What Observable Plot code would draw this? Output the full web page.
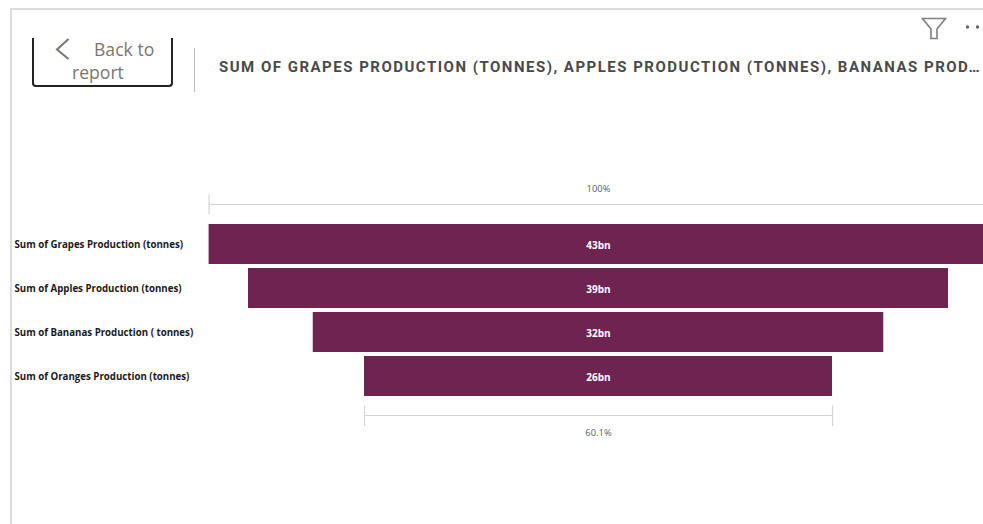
<!DOCTYPE html>
<html>
<head>
<meta charset="utf-8">
<script src="https://cdn.jsdelivr.net/npm/d3@7"></script>
<script src="https://cdn.jsdelivr.net/npm/@observablehq/plot@0.6"></script>
<style>
html,body{margin:0;padding:0;background:#fff;overflow:hidden}
#stage{position:relative;width:983px;height:524px;overflow:hidden}
#chart{position:absolute;left:0;top:0}
#chart svg{display:block;background:transparent}
.frameTop{position:absolute;left:10px;top:8px;width:973px;height:2px;background:#dcdcdc}
.frameLeft{position:absolute;left:10px;top:8px;width:2px;height:516px;background:#dcdcdc}
.backBox{position:absolute;left:32px;top:38px;width:136.5px;height:46.5px;border:2.5px solid #252423;border-top:0;border-radius:0 0 4px 4px;box-sizing:content-box}
.backText{position:absolute;font:17.6px "Open Sans",sans-serif;color:#7a7570;white-space:nowrap}
.sep{position:absolute;left:194px;top:48px;width:1px;height:44px;background:#bdbdbd}
.title{position:absolute;left:219px;top:58px;font:700 15px Roboto,sans-serif;letter-spacing:1.49px;color:#4a4a4a;white-space:nowrap}
.icons{position:absolute;left:0;top:0}
</style>
</head>
<body>
<div id="stage">
  <div id="chart"></div>
  <div class="frameTop"></div>
  <div class="frameLeft"></div>
  <div class="backBox"></div>
  <svg class="icons" width="983" height="60" style="overflow:hidden">
    <path d="M68.5 39 L57 49.5 L68.5 59" fill="none" stroke="#7a7570" stroke-width="2"/>
    <path d="M922.5 18.5 H945.5 L937 29 V38.5 H931 V29 Z" fill="none" stroke="#7f7f7f" stroke-width="1.6"/>
    <circle cx="967.5" cy="27" r="1.7" fill="#666"/>
    <circle cx="977.5" cy="27" r="1.7" fill="#666"/>
  </svg>
  <div class="backText" style="left:94px;top:37px">Back to</div>
  <div class="backText" style="left:72px;top:60px">report</div>
  <div class="sep"></div>
  <div class="title">SUM OF GRAPES PRODUCTION (TONNES), APPLES PRODUCTION (TONNES), BANANAS PROD…</div>
</div>
<script>
const categories = [
  "Sum of Grapes Production (tonnes)",
  "Sum of Apples Production (tonnes)",
  "Sum of Bananas Production ( tonnes)",
  "Sum of Oranges Production (tonnes)"
];
const values = [43, 38.65, 31.5, 25.84];
const valueLabels = ["43bn", "39bn", "32bn", "26bn"];
const topLabel = "100%";
const bottomLabel = "60.1%";

const rows = categories.map((name, i) => ({name, value: values[i], label: valueLabels[i]}));
const first = rows[0], last = rows[rows.length - 1];
const maroon = "#6e2351";
const ruleColor = "#d4d4d4";
const halfMax = values[0] / 2;

const chart = Plot.plot({
  width: 983,
  height: 524,
  marginLeft: 14,
  marginRight: 0,
  marginTop: 0,
  marginBottom: 0,
  style: {background: "transparent", overflow: "hidden"},
  x: {domain: [-halfMax, halfMax], range: [208.6, 987.4], axis: null},
  y: {domain: ["top", ...categories, "bottom"], range: [174.4, 444.8], padding: 0.1, axis: null},
  marks: [
    Plot.barX(rows, {
      x1: d => -d.value / 2, x2: d => d.value / 2, y: "name", fill: maroon
    }),
    Plot.text(rows, {
      x: 0, y: "name", text: "label", fill: "#fff", fontWeight: 700,
      fontFamily: "Open Sans", fontSize: 10, dy: 1
    }),
    Plot.text(rows, {
      frameAnchor: "left", y: "name", text: "name", textAnchor: "start", fill: "#1a1a1a", fontWeight: 700,
      fontFamily: "Open Sans", fontSize: 9.7, dy: 0
    }),
    // top bracket: span of the first stage
    Plot.ruleY([first], {x1: d => -d.value / 2, x2: d => d.value / 2, y: () => "top", stroke: ruleColor, strokeWidth: 1.2, dy: 4}),
    Plot.tickX([first], {x: d => -d.value / 2, y: () => "top", stroke: ruleColor, strokeWidth: 1.2, insetTop: 14.5, insetBottom: 5.5}),
    Plot.text([topLabel], {x: 0, y: () => "top", text: d => d, fill: "#605e5c", fontFamily: "Open Sans", fontSize: 9.4, dy: -12}),
    // bottom bracket: span of the last stage
    Plot.ruleY([last], {x1: d => -d.value / 2, x2: d => d.value / 2, y: () => "bottom", stroke: ruleColor, strokeWidth: 1.2, dy: -5}),
    Plot.tickX([last], {x: d => -d.value / 2, y: () => "bottom", stroke: ruleColor, strokeWidth: 1.2, insetTop: 5.5, insetBottom: 14}),
    Plot.tickX([last], {x: d => d.value / 2, y: () => "bottom", stroke: ruleColor, strokeWidth: 1.2, insetTop: 5.5, insetBottom: 14}),
    Plot.text([bottomLabel], {x: 0, y: () => "bottom", text: d => d, fill: "#605e5c", fontFamily: "Open Sans", fontSize: 9.4, dy: 12.8})
  ]
});
document.getElementById("chart").append(chart);
</script>
</body>
</html>
